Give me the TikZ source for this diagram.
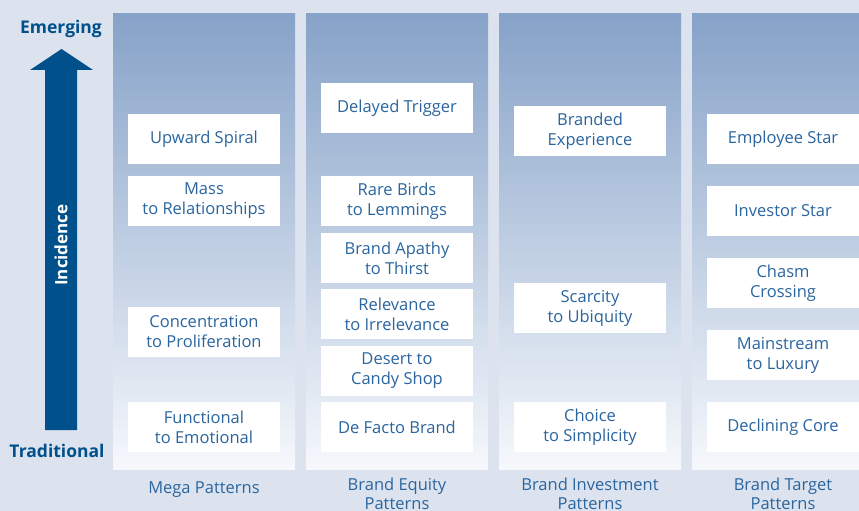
\documentclass[tikz,border=0pt]{standalone}
\usepackage{fontspec}
\setmainfont{Open Sans}
\definecolor{pagebg}{HTML}{DCE3EF}
\definecolor{coltop}{HTML}{86A2C8}
\definecolor{colbot}{HTML}{F6F8FC}
\definecolor{textblue}{HTML}{2A659F}
\definecolor{arrowblue}{HTML}{00508C}
\tikzset{
  column/.style={top color=coltop, bottom color=colbot, draw=none},
  patbox/.style={fill=white, text=textblue, minimum width=152pt, minimum height=50pt,
    align=center, inner sep=0pt, font=\fontsize{16.5}{20}\selectfont},
  collabel/.style={text=textblue, align=center, font=\fontsize{16.5}{19}\selectfont},
  endlabel/.style={text=arrowblue, font=\bfseries\fontsize{17.5}{20}\selectfont}
}
\begin{document}
\begin{tikzpicture}[x=1pt,y=-1pt]
\clip (0,0) rectangle (859,511);
\fill[pagebg] (0,0) rectangle (859,511);
% the four pattern columns
\shade[column] (113,14) rectangle (295,469);
\shade[column] (306,14) rectangle (488,469);
\shade[column] (499,14) rectangle (681,469);
\shade[column] (692,14) rectangle (874,469);

% incidence arrow
\fill[arrowblue] (45,430) -- (45,70) -- (30,70) -- (61.5,49) -- (93,70) -- (77,70) -- (77,430) -- cycle;
\node[rotate=90, text=white, font=\bfseries\fontsize{17}{20}\selectfont] (incidence) at (61,245) {Incidence};
\node[endlabel] (emerging) at (61,29) {Emerging};
\node[endlabel] (traditional) at (57,451) {Traditional};

% Mega Patterns
\node[patbox] (spiral) at (204,139) {Upward Spiral};
\node[patbox] (mass) at (204,201) {Mass\\to Relationships};
\node[patbox] (concentration) at (204,332) {Concentration\\to Proliferation};
\node[patbox] (functional) at (204,427) {Functional\\to Emotional};
\node[collabel] (mega) at (204,490) {Mega Patterns};

% Brand Equity Patterns
\node[patbox] (delayed) at (397,108) {Delayed Trigger};
\node[patbox] (rarebirds) at (397,201) {Rare Birds\\to Lemmings};
\node[patbox] (apathy) at (397,258) {Brand Apathy\\to Thirst};
\node[patbox] (relevance) at (397,314) {Relevance\\to Irrelevance};
\node[patbox] (desert) at (397,371) {Desert to\\Candy Shop};
\node[patbox] (defacto) at (397,427) {De Facto Brand};
\node[collabel] (equity) at (397,494) {Brand Equity\\Patterns};

% Brand Investment Patterns
\node[patbox] (branded) at (590,131) {Branded\\Experience};
\node[patbox] (scarcity) at (590,308) {Scarcity\\to Ubiquity};
\node[patbox] (choice) at (590,427) {Choice\\to Simplicity};
\node[collabel] (investment) at (590,494) {Brand Investment\\Patterns};

% Brand Target Patterns
\node[patbox] (employee) at (783,139) {Employee Star};
\node[patbox] (investor) at (783,211) {Investor Star};
\node[patbox] (chasm) at (783,283) {Chasm\\Crossing};
\node[patbox] (mainstream) at (783,355) {Mainstream\\to Luxury};
\node[patbox] (declining) at (783,427) {Declining Core};
\node[collabel] (target) at (783,494) {Brand Target\\Patterns};
\end{tikzpicture}
\end{document}
